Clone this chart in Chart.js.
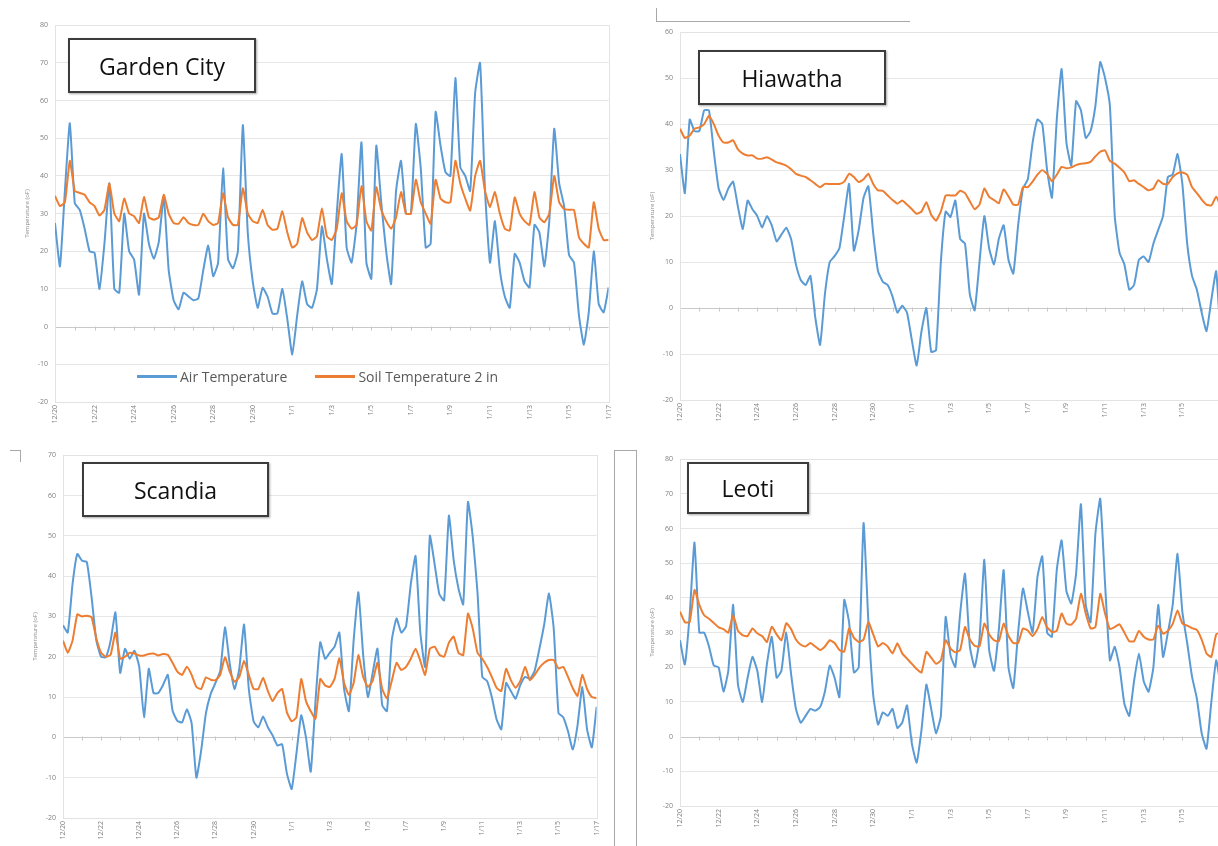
<!DOCTYPE html>
<html>
<head>
<meta charset="utf-8">
<script src="https://cdn.jsdelivr.net/npm/chart.js@4.4.1/dist/chart.umd.min.js"></script>
<style>
html,body{margin:0;padding:0;background:#fff;}
body{width:1218px;height:846px;overflow:hidden;position:relative;font-family:'Open Sans',sans-serif;}
.panel{position:absolute;}
.panel canvas{display:block;}
.title{position:absolute;background:#fff;border:2px solid #3c3c3c;box-shadow:1px 1px 2px rgba(0,0,0,.35);display:flex;align-items:center;justify-content:center;font-size:23px;color:#111;box-sizing:border-box;}
.legend{position:absolute;display:flex;align-items:center;font-size:14px;color:#595959;white-space:nowrap;}
.legend .item{display:flex;align-items:center;margin-right:28px;}
.legend .sw{display:inline-block;width:40px;height:3px;margin-right:3px;}
.deco{position:absolute;border-color:#a8a8a8;border-style:solid;border-width:0;box-sizing:border-box;}
</style>
</head>
<body>
<div class="panel" id="pGarden" style="left:0px;top:14px;"><canvas id="cGarden" width="620" height="418"></canvas></div>
<div class="panel" id="pHiawatha" style="left:625px;top:21px;"><canvas id="cHiawatha" width="620" height="409"></canvas></div>
<div class="panel" id="pScandia" style="left:8px;top:444px;"><canvas id="cScandia" width="600" height="404"></canvas></div>
<div class="panel" id="pLeoti" style="left:625px;top:448px;"><canvas id="cLeoti" width="620" height="388"></canvas></div>

<div class="deco" style="left:656px;top:8px;width:254px;height:14px;border-left-width:1px;border-bottom-width:1px;"></div>
<div class="deco" style="left:10px;top:450px;width:11px;height:12px;border-top-width:1px;border-right-width:1px;"></div>
<div class="deco" style="left:614px;top:450px;width:23px;height:400px;border-left-width:1px;border-top-width:1px;border-right-width:1px;"></div>

<div class="title" style="left:68px;top:38px;width:188px;height:55px;">Garden City</div>
<div class="title" style="left:698px;top:50px;width:188px;height:55px;">Hiawatha</div>
<div class="title" style="left:82px;top:462px;width:187px;height:55px;">Scandia</div>
<div class="title" style="left:687px;top:462px;width:122px;height:52px;">Leoti</div>

<div class="legend" id="legendGarden" style="left:137px;top:366px;height:20px;"></div>

<script>
// ---- tick labels (every 2 days, Dec 20 -> Jan 17) ----
const DATE_LABELS = ['12/20','12/22','12/24','12/26','12/28','12/30','1/1','1/3','1/5','1/7','1/9','1/11','1/13','1/15','1/17'];
const SERIES_NAMES = ['Air Temperature', 'Soil Temperature 2 in'];
const SAMPLES_PER_DAY = 4; // 6-hourly readings

// ---- Garden City ----
const GARDEN_AIR = [
 27.5,16,36,54, 32.8,31,26,20, 19.6,10,22,38, 10,9,30,20, 17.8,8.5,30,22,
 18,22.5,34.5,15, 7,4.6,9,8, 7,7.5,15,21.5, 13.4,17,42,18, 15.5,20,53.5,25,
 12,5,10.3,8, 3.5,3.5,10,2, -7.4,3,12,6, 5,10,26.6,18, 11.3,30,45.8,21,
 17,27,48.9,17, 12.7,48,33,20, 11.3,36,44,30, 30,53.8,42,21, 22,57,48,41,
 40,66,42.3,40, 36,62,70,36, 17,28,15,8, 5,19.3,17,12, 10.4,27,25,16,
 28,52.5,38,32, 19,17,3,-4.8, 4,20,6,3.8, 10.4];
const GARDEN_SOIL = [
 34.7,32,33,44, 36,35.5,35,33, 32,29.5,31,38, 30,28,34,30, 29.3,27.5,34.4,29,
 28.4,29,35,30, 27.5,27.3,29,27.5, 27,27,30,28, 27,27.5,35.4,29, 27,27,36.7,30,
 28,27.5,31,27, 25.7,26,30.6,25, 21,22,28.8,25, 23,24,31.4,24, 23,26,35.4,28,
 26,27,37.3,28, 25.5,37,31,28, 26,29,35.7,30, 30,39,33,30, 27.3,39,34,33,
 33,44,38,34, 30.8,40,44,36, 31.7,35.7,30,26, 25.5,34.3,30,28, 27,35.7,29,27.7,
 30,40,33,31.2, 31,31,23.7,22, 21,33,26,23, 23];

// ---- Hiawatha ----
const HIAWATHA_AIR = [
 33.5,25,41,38.5, 38.5,43,43,34, 26,23.5,26,27.5, 22,17.2,23.4,21.5, 20,17.5,20,18,
 14.5,16,17.5,15, 9.5,6.1,5,7, -2,-8,3,10, 11.3,13,20,27, 12.5,17,24,26.5,
 16.2,8,5.7,5, 2.5,-1,0.5,-1, -7,-12.5,-5,0, -9.5,-9.2,10,21, 19.8,23.4,15,14,
 3,-0.5,10,20, 13,9.5,15,18, 10.5,7.5,18,26, 28,36,41,40, 30,24,41,52,
 36,31,45,43, 37,38.5,44,53.5, 50,44,20,12, 9.5,4,5,10.5, 11.2,10,14,17,
 20,28.5,29,33.5, 27,14,7,4, -1,-5,1.8,8, -8];
const HIAWATHA_SOIL = [
 39,37,37.5,39, 39.3,40,41.8,40, 37.5,36,36,36.5, 34.5,33.6,33.2,33.2, 32.5,32.5,32.8,32.3,
 31.7,31.4,31,30.2, 29.2,28.8,28.5,27.8, 27,26.3,27,27, 27,27,27.5,29.2, 28.5,27.4,28,29.2,
 27,25.6,25.5,24.5, 23.5,22.7,23.4,22.5, 21.5,20.5,21,23, 20.3,19,21,24.5, 24.5,24.5,25.5,25,
 23.2,21.5,22.5,26, 24.2,23.5,22.8,25.8, 24.3,22.5,22.5,26.3, 26.3,27.5,29,30, 29.2,27.6,29,30.7,
 30.4,30.6,31.1,31.4, 31.5,31.8,33,34, 34.3,32,31.4,30.5, 29.5,27.6,27.8,27, 26.3,25.6,26,27.8,
 27,27,28.5,29.3, 29.5,29,26.3,25, 23.6,22.5,22.3,24.2, 22];

// ---- Scandia ----
const SCANDIA_AIR = [
 27.8,26,38,45.5, 43.8,43.5,34.8,24, 20,19.9,24,31, 16,22,19.5,21.5, 17.5,5,17,11,
 11,13,15.5,6.6, 4.1,3.7,7,3.5, -10,-3.3,6,10.8, 13.5,16.5,27.3,18.2, 12,17,28,12,
 4,2.5,5.2,2.5, 0.5,-2,-1.7,-9, -12.8,-4,5.5,0, -8.5,9,23.6,19.5, 21,22.5,26,12,
 6.5,24,36,20.5, 10,16,22,8, 6.5,24,29.5,26, 27.5,38,45,26, 17.5,50,43,35.5,
 34,55,44,37, 33,58.4,49.8,36, 15,14,10,4.5, 2,13.5,11.5,9.6, 13,15,14.5,16.5,
 22,28,35.7,27, 6,5,1.5,-3, 3,12.5,2,-2.5, 7.6];
const SCANDIA_SOIL = [
 24,21,24,30.5, 30,30.2,29.8,24.5, 21,20,20.5,26, 19.5,20,21,20.8, 20.3,20.3,20.7,20.8,
 20.3,20.7,20.5,18.5, 16.3,15.5,17.5,15.5, 12.5,12,14.9,14.3, 14.2,15.5,19.9,16.3, 13.8,15,19,15.5,
 12,12,14.8,11.5, 9,11,12,6.2, 4,5,14.5,9, 6.5,4.6,14.5,12.9, 12.5,14.5,19.6,13.5,
 10.5,13.5,20.4,15, 12.5,14,18.5,12, 9.7,14,18.5,16.7, 17.5,19.5,22,19, 15.5,22,22.5,20.5,
 20,23.5,25,21, 20.4,30.7,27,21, 19.5,17.5,15,12.3, 11.5,17,14.2,12.3, 14,17.5,14.2,15.5,
 17.3,18.5,19.2,19.2, 17.1,17.5,15,12.2, 10.3,15.5,12,10, 9.7];

// ---- Leoti ----
const LEOTI_AIR = [
 27.8,20.8,35,56, 30,30,26,20.5, 20,13,19,38, 15,10,17,23, 19,10,21,28.8,
 17,19,30,18, 8,4,6,8, 7.5,8.5,13,20.5, 17,11.4,39.4,33, 18.5,20,61.6,33,
 12,3.5,7,6, 8,2.5,4,9, -2,-7.5,2,15, 8,1,6,34.5, 23.5,20.1,35.5,47,
 26,20,28,51, 25,19,30.7,48, 20,14,30,42.7, 36,30,46,52, 30,28.8,48,56.6,
 42,38.4,47,67, 38,33,58.5,68.6, 44,22,25.9,20, 9.5,6,16,24, 16,13,20,38,
 23,30,38,52.7, 36,27,17.3,11, 1,-3.5,10,22, 14];
const LEOTI_SOIL = [
 36,33,33,42.3, 38,35,34,32.8, 31.5,31,30,35, 30.5,29.2,29,31.2, 29.8,29,27.3,31.7,
 29.5,27.8,32.7,31, 28,26.5,26,27, 26,25,26,27.8, 27,25,24.5,31.2, 28.5,27.3,28,33,
 29.5,26,27,26, 24,26.9,24,22.5, 21,19.5,18.5,24.4, 22.8,21,22,27.8, 25.4,24.3,25,31.6,
 28,26.2,26,32.6, 29.5,27.8,27.5,32.6, 29,27,27,31.2, 30.6,29,31,34.5, 31.5,30.2,30.5,35.5,
 32.6,32.3,34,41.2, 35.5,31.2,31.6,41.2, 35.5,31,31.6,32.4, 30,27.5,27.5,30.5, 28.8,28,28,32,
 29.7,30.5,32.5,36.4, 32.6,32,31.3,30.8, 28,24,23,29.5, 30];

// ---- styling / layout (kept separate from data) ----
const AIR_COLOR = '#5B9BD5';
const SOIL_COLOR = '#ED7D31';
const PANELS = [
  {canvas:'cGarden',   air:GARDEN_AIR,   soil:GARDEN_SOIL,   yMin:-20, yMax:80, padTop:10, padRight:7,  legend:'legendGarden'},
  {canvas:'cHiawatha', air:HIAWATHA_AIR, soil:HIAWATHA_SOIL, yMin:-20, yMax:60, padTop:10, padRight:24, legend:null},
  {canvas:'cScandia',  air:SCANDIA_AIR,  soil:SCANDIA_SOIL,  yMin:-20, yMax:70, padTop:10, padRight:8,  legend:null},
  {canvas:'cLeoti',    air:LEOTI_AIR,    soil:LEOTI_SOIL,    yMin:-20, yMax:80, padTop:10, padRight:24, legend:null}
];

function toXY(arr){ return arr.map((v,i)=>({x:i/SAMPLES_PER_DAY, y:v})); }

// horizontal axis drawn at zero with daily tick marks
const zeroAxis = {
  id:'zeroAxis',
  beforeDatasetsDraw(chart){
    const {ctx, chartArea, scales:{x, y}} = chart;
    const py = Math.round(y.getPixelForValue(0)) + 0.5;
    ctx.save();
    ctx.strokeStyle = '#c9c9c9';
    ctx.lineWidth = 1;
    ctx.beginPath();
    ctx.moveTo(chartArea.left, py); ctx.lineTo(chartArea.right, py);
    for (let d = Math.ceil(x.min); d <= x.max; d += 1){
      const px = Math.round(x.getPixelForValue(d)) + 0.5;
      ctx.moveTo(px, py - 1); ctx.lineTo(px, py + 3);
    }
    ctx.stroke();
    ctx.restore();
  }
};
// light frame around plot area
const plotFrame = {
  id:'plotFrame',
  beforeDatasetsDraw(chart){
    const {ctx, chartArea:a} = chart;
    ctx.save();
    ctx.strokeStyle = '#e3e3e3';
    ctx.lineWidth = 1;
    ctx.strokeRect(Math.round(a.left)+0.5, Math.round(a.top)+0.5, Math.round(a.right-a.left), Math.round(a.bottom-a.top));
    ctx.restore();
  }
};
// HTML legend built from the chart's own legend items
const htmlLegend = {
  id:'htmlLegend',
  afterUpdate(chart, args, opts){
    if (!opts || !opts.containerID) return;
    const box = document.getElementById(opts.containerID);
    box.innerHTML = '';
    const items = chart.options.plugins.legend.labels.generateLabels(chart)
      .sort((a,b)=>a.datasetIndex-b.datasetIndex);
    items.forEach(it=>{
      const el = document.createElement('div'); el.className = 'item';
      const sw = document.createElement('span'); sw.className = 'sw'; sw.style.background = it.strokeStyle;
      const tx = document.createElement('span'); tx.textContent = it.text;
      el.append(sw, tx); box.append(el);
    });
  }
};

Chart.defaults.font.family = "'Open Sans', 'Liberation Sans', sans-serif";

PANELS.forEach(p=>{
  new Chart(document.getElementById(p.canvas), {
    type:'line',
    data:{datasets:[
      {label:SERIES_NAMES[0], data:toXY(p.air), borderColor:AIR_COLOR, backgroundColor:AIR_COLOR, borderWidth:2, pointRadius:0, tension:0.15, order:1},
      {label:SERIES_NAMES[1], data:toXY(p.soil), borderColor:SOIL_COLOR, backgroundColor:SOIL_COLOR, borderWidth:2, pointRadius:0, tension:0.15, order:0}
    ]},
    options:{
      responsive:false, animation:false, devicePixelRatio:1,
      layout:{padding:{top:p.padTop, right:p.padRight, left:0, bottom:0}},
      plugins:{legend:{display:false}, tooltip:{enabled:false}, htmlLegend:{containerID:p.legend}},
      scales:{
        x:{type:'linear', min:0, max:28,
           grid:{display:false, drawTicks:false}, border:{display:false},
           ticks:{stepSize:2, autoSkip:false, maxRotation:90, minRotation:90, padding:3, color:'#7f7f7f', font:{size:7},
                  callback:(v)=>DATE_LABELS[Math.round(v/2)] ?? ''},
           afterFit:(s)=>{ s.height = 30; }},
        y:{min:p.yMin, max:p.yMax,
           grid:{color:(c)=> c.tick && c.tick.value === 0 ? 'rgba(0,0,0,0)' : '#e6e6e6', drawTicks:false}, border:{display:false},
           ticks:{stepSize:10, padding:7, color:'#7f7f7f', font:{size:7}},
           title:{display:true, text:'Temperature (oF)', color:'#8c8c8c', font:{size:6}, padding:{top:24, bottom:0}},
           afterFit:(s)=>{ s.width = 55; }}
      }
    },
    plugins:[zeroAxis, plotFrame, htmlLegend]
  });
});
</script>
</body>
</html>
